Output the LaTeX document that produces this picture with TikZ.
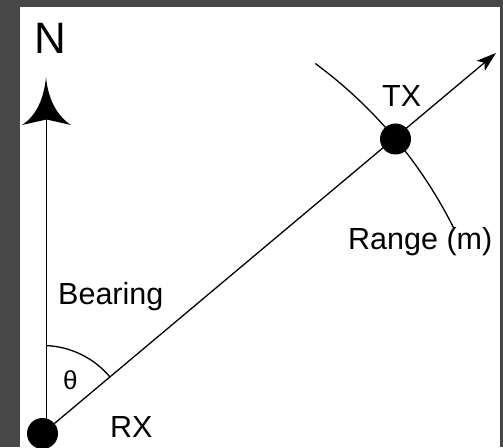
\documentclass[tikz,border=0pt]{standalone}
\usepackage{fontspec}
\setmainfont{Liberation Sans}
\usetikzlibrary{arrows.meta}
\definecolor{frame}{RGB}{72,72,72}
\begin{document}
\begin{tikzpicture}[x=1pt,y=1pt,
  lbl/.style={inner sep=0pt,anchor=base west,font=\fontsize{30.5}{36}\selectfont},
  dot/.style={circle,fill=black,minimum size=31pt,inner sep=0pt},
  ln/.style={line width=1.3pt,black}]
\useasboundingbox (0,0) rectangle (503,447);
\fill[frame] (0,0) rectangle (503,447);
\fill[white] (20,0) rectangle (500,440);
\begin{scope}
\clip (20,0) rectangle (500,440);
% positions
\coordinate (rxc) at (42.5,13.5);
\coordinate (txc) at (395.5,308);
\coordinate (ne) at (496,394);
\coordinate (nbase) at (46.5,13.5);
\coordinate (ntop) at (46.5,328);
% north line and arrowhead
\draw[ln] (nbase) -- (ntop);
\fill (46,370) .. controls (44,348) and (36,331) .. (22,322) -- (46.5,327.5) -- (71,322) .. controls (57,331) and (48,348) .. (46,370) -- cycle;
% bearing line
\draw[ln,-{Stealth[length=20pt,width=13pt,inset=5pt]}] (rxc) -- (ne);
% range arc
\draw[ln] (rxc) ++(53.6:459.7) arc[start angle=53.6,end angle=26.6,radius=459.7];
% bearing angle arc
\draw[ln] (rxc) ++(87.7:88) arc[start angle=87.7,end angle=39.8,radius=88];
% dots
\node[dot] (rx) at (rxc) {};
\node[dot] (tx) at (txc) {};
\end{scope}
% labels
\node[lbl,font=\fontsize{44}{50}\selectfont] (n) at (34,393) {N};
\node[lbl] (bearing) at (58,142) {Bearing};
\node[lbl,font=\fontsize{26}{30}\selectfont] (theta) at (63,57) {θ};
\node[lbl] (rxl) at (110,10) {RX};
\node[lbl] (txl) at (382,340) {TX};
\node[lbl] (range) at (348,197) {Range (m)};
\end{tikzpicture}
\end{document}
